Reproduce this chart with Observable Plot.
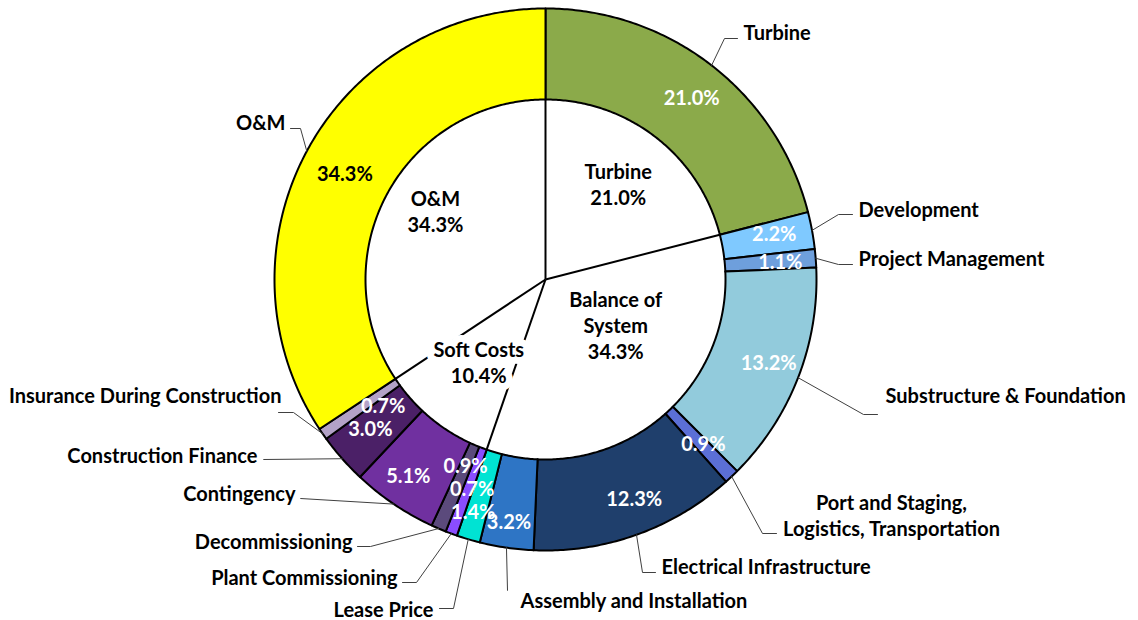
<!DOCTYPE html>
<html><head><meta charset="utf-8">
<script src="https://cdn.jsdelivr.net/npm/d3@7"></script>
<script src="https://cdn.jsdelivr.net/npm/@observablehq/plot@0.6"></script>
<style>body{margin:0;background:#fff} svg{display:block}</style>
</head><body><div id="chart"></div>
<script>
// ---- data ----
const categories = ["Turbine","Development","Project Management","Substructure & Foundation",
  "Port and Staging,\nLogistics, Transportation","Electrical Infrastructure","Assembly and Installation",
  "Lease Price","Plant Commissioning","Decommissioning","Contingency","Construction Finance",
  "Insurance During Construction","O&M"];
const shares = [21.0, 2.2, 1.1, 13.2, 0.9, 12.3, 3.2, 1.4, 0.7, 0.9, 5.1, 3.0, 0.7, 34.3];
const groups = ["Turbine", "Balance of\nSystem", "Soft Costs", "O&M"];
const groupShares = [21.0, 34.3, 10.4, 34.3];

// ---- styles / layout ----
const colors = ["#8BAA4A","#7FC9FF","#6E9FDC","#92CBDC","#5B6FD6","#1F3F6C","#2E75C5",
  "#00E3D3","#8A4DFF","#5B4A7C","#7030A0","#4B2067","#B3A2C7","#FFFF00"];
const pctColor = categories.map((d, i) => i === categories.length - 1 ? "#000" : "#fff");
const pctDx = [8, 7, 10, 13, 3, 13, -4, -8, 5, 9, -11, -6, 23, -2];
const pctDy = [-2, -3, 2, 3, 2, 9, 21, 18, 0, -19, 11, 2, 0, 3];
// leader elbow (ex,ey), end (hx), label anchor (tx,ty), alignment
const leaders = [
  {ex:179, ey:-241, hx:192, tx:198, ty:-248, a:"start"},
  {ex:293, ey:-65, hx:307, tx:313, ty:-71, a:"start"},
  {ex:293, ey:-15, hx:307, tx:313, ty:-22, a:"start"},
  {ex:318, ey:135, hx:332, tx:340, ty:115, a:"start"},
  {ex:217, ey:254, hx:231, tx:346, ty:235, a:"middle"},
  {ex:97, ey:293, hx:110, tx:116, ty:286, a:"start"},
  {ex:-38, ey:311, hx:-38, tx:-25, ty:320, a:"start"},
  {ex:-92, ey:329, hx:-106, tx:-112, ty:329, a:"end"},
  {ex:-129, ey:303, hx:-143, tx:-148, ty:297, a:"end"},
  {ex:-175, ey:267, hx:-188, tx:-193, ty:261, a:"end"},
  {ex:-245, ey:219, hx:-245, tx:-250, ty:213, a:"end"},
  {ex:-282, ey:180, hx:-282, tx:-288, ty:175, a:"end"},
  {ex:-252, ey:133, hx:-267, tx:-264, ty:115, a:"end"},
  {ex:-245, ey:-151, hx:-255, tx:-260, ty:-158, a:"end"}
];
const groupDx = [1, -9, 5, -7];
const groupDy = [-3, -41, -10, -13];

const R = 271, r0 = 180;
const polar = (rad, a) => ({x: rad * Math.sin(a), y: -rad * Math.cos(a)});

const arcs = d3.pie().sort(null).value(d => d)(shares);
const ringPts = [];
arcs.forEach((a, i) => {
  const n = Math.max(2, Math.ceil((a.endAngle - a.startAngle) / 0.01));
  const pts = [];
  for (let k = 0; k <= n; k++) pts.push(polar(R, a.startAngle + (a.endAngle - a.startAngle) * k / n));
  for (let k = n; k >= 0; k--) pts.push(polar(r0, a.startAngle + (a.endAngle - a.startAngle) * k / n));
  pts.push(pts[0]);
  pts.forEach(p => ringPts.push({...p, name: categories[i]}));
});

const pctRows = arcs.map((a, i) => {
  const m = (a.startAngle + a.endAngle) / 2;
  const p = polar((R + r0) / 2, m);
  return {x: p.x + pctDx[i], y: p.y + pctDy[i] - 1, text: shares[i].toFixed(1) + "%", fill: pctColor[i]};
});

const leaderPts = [];
arcs.forEach((a, i) => {
  const m = (a.startAngle + a.endAngle) / 2;
  const s = polar(R, m), L = leaders[i];
  [s, {x: L.ex, y: L.ey}, {x: L.hx, y: L.ey}].forEach(p => leaderPts.push({...p, name: categories[i]}));
});
const labelRows = categories.map((c, i) => ({x: leaders[i].tx, y: leaders[i].ty, text: c, a: leaders[i].a}));

const garcs = d3.pie().sort(null).value(d => d)(groupShares);
const spokes = garcs.map(a => { const p = polar(r0, a.startAngle); return {x1: 0, y1: 0, x2: p.x, y2: p.y}; });
const groupRows = garcs.map((a, i) => {
  const p = polar(r0 * 0.65, (a.startAngle + a.endAngle) / 2);
  return {x: p.x + groupDx[i], y: p.y + groupDy[i], text: groups[i] + "\n" + groupShares[i].toFixed(1) + "%"};
});

const font = "Lato, 'Open Sans', sans-serif";
const fs = 20;
const chart = Plot.plot({
  width: 1138, height: 620, margin: 0,
  x: {domain: [-545, 593], range: [0, 1138], axis: null},
  y: {domain: [-279, 341], range: [0, 620], axis: null},
  color: {domain: categories, range: colors},
  style: {fontFamily: font, background: "#fff"},
  marks: [
    Plot.line(ringPts, {x: "x", y: "y", z: "name", fill: "name", stroke: "#000", strokeWidth: 2, curve: "linear"}),
    Plot.link(spokes, {x1: "x1", y1: "y1", x2: "x2", y2: "y2", stroke: "#000", strokeWidth: 2}),
    Plot.line(leaderPts, {x: "x", y: "y", z: "name", stroke: "#404040", strokeWidth: 1}),
    Plot.text(pctRows, {x: "x", y: "y", text: "text", fill: d => d.fill, fontSize: fs, fontWeight: "bold"}),
    Plot.text(labelRows.filter(d => d.a === "start"), {x: "x", y: "y", text: "text", textAnchor: "start", fill: "#000", fontSize: fs, fontWeight: "bold", lineHeight: 1.3}),
    Plot.text(labelRows.filter(d => d.a === "end"), {x: "x", y: "y", text: "text", textAnchor: "end", fill: "#000", fontSize: fs, fontWeight: "bold", lineHeight: 1.3}),
    Plot.text(labelRows.filter(d => d.a === "middle"), {x: "x", y: "y", text: "text", textAnchor: "middle", fill: "#000", fontSize: fs, fontWeight: "bold", lineHeight: 1.3}),
    Plot.text(groupRows, {x: "x", y: "y", text: "text", fill: "#000", stroke: "#fff", strokeWidth: 14, fontSize: fs, fontWeight: "bold", lineHeight: 1.3})
  ]
});
document.getElementById("chart").append(chart);
</script>
</body></html>
